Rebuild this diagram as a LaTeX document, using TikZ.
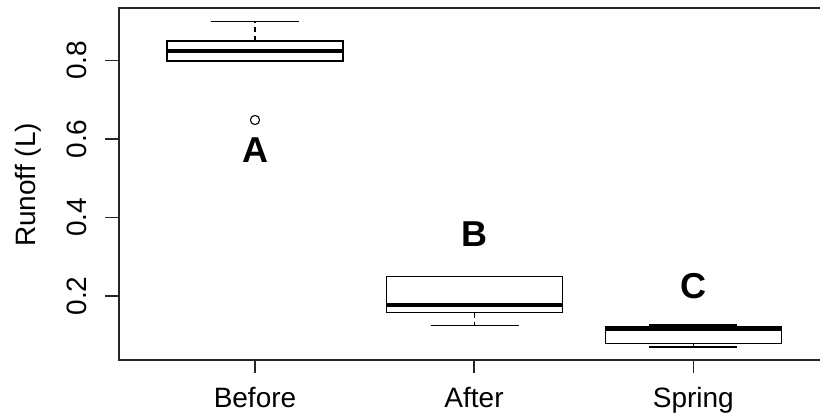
\documentclass[tikz,border=0pt]{standalone}
\usepackage{fontspec}
\setmainfont{Liberation Sans}
\begin{document}
\begin{tikzpicture}[x=1pt,y=1pt,
  frame/.style={line width=1.4pt,draw=black!85},
  boxline/.style={line width=1.2pt,draw=black},
  medline/.style={line width=4.2pt,draw=black},
  whisk/.style={line width=1.2pt,draw=black,dash pattern=on 5pt off 4pt},
  capline/.style={line width=1.2pt,draw=black},
  ticklab/.style={font=\fontsize{28}{28}\selectfont,inner sep=0pt},
  letlab/.style={font=\fontsize{36}{36}\selectfont\bfseries,inner sep=0pt,anchor=base}]
\useasboundingbox (0,0) rectangle (820,415);
\clip (0,0) rectangle (820,415);
\fill[white] (0,0) rectangle (820,415);
% frame
\draw[frame] (830,407) -- (119,407) -- (119,55) -- (830,55);
% y ticks
\foreach \v/\Y in {0.2/119,0.4/197.5,0.6/276,0.8/354.5}{
  \draw[frame] (105,\Y) -- (119,\Y);
  \node[ticklab,rotate=90,anchor=south] at (87,\Y) {\v};
}
\node[ticklab,rotate=90,anchor=base] (ylab) at (35,230) {Runoff (L)};
% x ticks
\foreach \x/\t in {255/Before,474/After,693.3/Spring}{
  \draw[frame] (\x,55) -- (\x,42);
  \node[ticklab,anchor=base] at (\x,7) {\t};
}
% Before
\draw[whisk] (255,374) -- (255,393.3);
\draw[capline] (211,393.3) -- (299,393.3);
\draw[capline] (211,354) -- (299,354);
\draw[boxline] (167,354) rectangle (343,374);
\draw[medline] (167.6,364) -- (342.4,364);
\draw[line width=1.1pt] (255,295) circle (4.6);
\node[letlab] (A) at (255.5,252) {A};
% After
\draw[whisk] (474.5,102.3) -- (474.5,89.3);
\draw[capline] (430.5,89.3) -- (518.5,89.3);
\draw[capline] (430.5,138.3) -- (518.5,138.3);
\draw[boxline] (386.5,102.3) rectangle (562.5,138.3);
\draw[medline] (387.1,110) -- (561.9,110);
\node[letlab] (B) at (474,168) {B};
% Spring
\draw[whisk] (693.3,71.7) -- (693.3,68);
\draw[capline] (649.3,68) -- (737.3,68);
\draw[capline] (649.3,90) -- (737.3,90);
\draw[boxline] (605.3,71.7) rectangle (781.3,88.7);
\draw[medline] (605.9,85.7) -- (780.7,85.7);
\node[letlab] (C) at (693,116) {C};
\end{tikzpicture}
\end{document}
